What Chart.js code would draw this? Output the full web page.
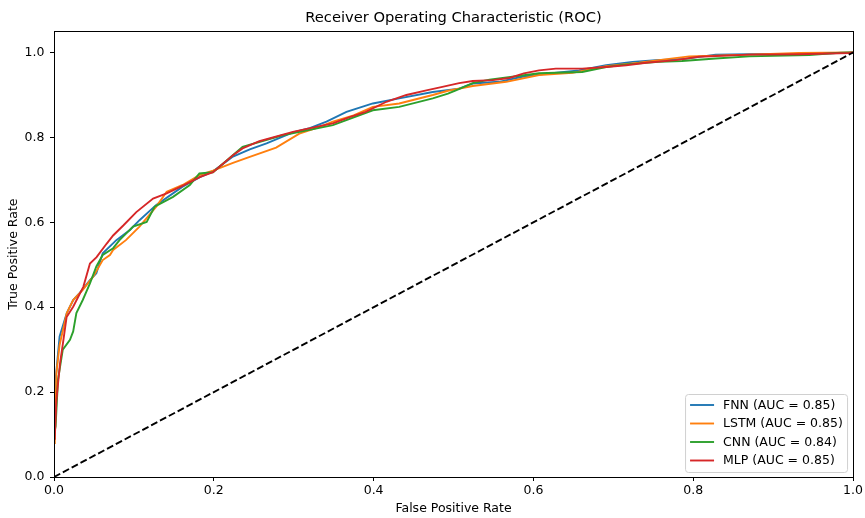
<!DOCTYPE html>
<html>
<head>
<meta charset="utf-8">
<title>ROC</title>
<script src="https://cdn.jsdelivr.net/npm/chart.js@4.4.1/dist/chart.umd.min.js"></script>
<style>
  html, body { margin: 0; padding: 0; background: #fff; }
  #wrap { width: 865px; height: 518px; }
</style>
</head>
<body>
<div id="wrap"><canvas id="rocChart" width="865" height="518"></canvas></div>
<script>
// ===== Data =====
const modelNames = ['FNN', 'LSTM', 'CNN', 'MLP'];
const aucValues = [0.85, 0.85, 0.84, 0.85];
const lineColors = ['#1f77b4', '#ff7f0e', '#2ca02c', '#d62728'];
const tickValues = [0, 0.2, 0.4, 0.6, 0.8, 1.0];
const chartTitle = 'Receiver Operating Characteristic (ROC)';

const fnnFpr = [0, 0.002, 0.007, 0.016, 0.024, 0.032, 0.045, 0.053, 0.061, 0.078, 0.095, 0.107, 0.128, 0.161, 0.182, 0.199, 0.224, 0.245, 0.266, 0.299, 0.320, 0.341, 0.366, 0.399, 0.432, 0.474, 0.507, 0.524, 0.557, 0.586, 0.620, 0.657, 0.691, 0.724, 0.753, 0.790, 0.828, 0.870, 0.950, 1.0];
const fnnTpr = [0.14, 0.229, 0.331, 0.386, 0.417, 0.433, 0.464, 0.480, 0.527, 0.558, 0.582, 0.605, 0.641, 0.684, 0.706, 0.720, 0.755, 0.772, 0.786, 0.812, 0.822, 0.837, 0.860, 0.880, 0.892, 0.907, 0.915, 0.927, 0.931, 0.943, 0.951, 0.958, 0.970, 0.978, 0.982, 0.985, 0.995, 0.996, 0.997, 1.0];

const lstmFpr = [0, 0.001, 0.003, 0.007, 0.016, 0.024, 0.036, 0.049, 0.061, 0.070, 0.074, 0.090, 0.107, 0.128, 0.141, 0.161, 0.182, 0.199, 0.224, 0.245, 0.278, 0.307, 0.330, 0.349, 0.375, 0.399, 0.432, 0.474, 0.493, 0.524, 0.566, 0.607, 0.649, 0.691, 0.732, 0.757, 0.795, 0.870, 0.932, 1.0];
const lstmTpr = [0.08, 0.084, 0.245, 0.311, 0.386, 0.417, 0.441, 0.472, 0.511, 0.523, 0.535, 0.558, 0.590, 0.637, 0.672, 0.688, 0.711, 0.722, 0.740, 0.754, 0.776, 0.809, 0.823, 0.837, 0.852, 0.872, 0.880, 0.900, 0.910, 0.921, 0.931, 0.947, 0.952, 0.968, 0.976, 0.982, 0.991, 0.995, 0.999, 1.0];

const cnnFpr = [0, 0.002, 0.005, 0.011, 0.020, 0.024, 0.028, 0.036, 0.045, 0.053, 0.061, 0.074, 0.082, 0.099, 0.116, 0.126, 0.149, 0.170, 0.182, 0.199, 0.236, 0.286, 0.349, 0.399, 0.432, 0.474, 0.493, 0.503, 0.524, 0.545, 0.607, 0.661, 0.691, 0.716, 0.757, 0.786, 0.828, 0.870, 0.945, 0.978, 1.0];
const cnnTpr = [0.10, 0.119, 0.229, 0.300, 0.323, 0.343, 0.386, 0.417, 0.456, 0.496, 0.523, 0.539, 0.558, 0.590, 0.601, 0.637, 0.660, 0.688, 0.715, 0.718, 0.778, 0.805, 0.829, 0.864, 0.872, 0.892, 0.903, 0.911, 0.928, 0.936, 0.951, 0.954, 0.966, 0.972, 0.978, 0.980, 0.986, 0.991, 0.994, 0.999, 1.0];

const mlpFpr = [0, 0.001, 0.003, 0.0075, 0.0117, 0.0158, 0.024, 0.0367, 0.045, 0.0533, 0.066, 0.074, 0.087, 0.103, 0.124, 0.141, 0.162, 0.183, 0.199, 0.224, 0.236, 0.257, 0.299, 0.328, 0.349, 0.370, 0.390, 0.416, 0.441, 0.466, 0.486, 0.507, 0.524, 0.549, 0.570, 0.588, 0.607, 0.628, 0.661, 0.691, 0.716, 0.741, 0.778, 0.807, 0.870, 0.932, 0.995, 1.0];
const mlpTpr = [0.09, 0.092, 0.181, 0.267, 0.322, 0.377, 0.401, 0.448, 0.503, 0.518, 0.550, 0.569, 0.593, 0.624, 0.656, 0.668, 0.687, 0.707, 0.718, 0.758, 0.774, 0.791, 0.813, 0.825, 0.833, 0.848, 0.860, 0.884, 0.900, 0.911, 0.919, 0.928, 0.933, 0.935, 0.940, 0.951, 0.958, 0.962, 0.962, 0.966, 0.970, 0.976, 0.982, 0.990, 0.995, 0.996, 0.999, 1.0];

const chanceFpr = [0, 1];
const chanceTpr = [0, 1];

const fprList = [fnnFpr, lstmFpr, cnnFpr, mlpFpr];
const tprList = [fnnTpr, lstmTpr, cnnTpr, mlpTpr];

const toPoints = (xs, ys) => xs.map((x, i) => ({ x: x, y: ys[i] }));

const FONT = 'DejaVu Sans';
const TXT = 12.5;
Chart.defaults.color = '#000';
Chart.defaults.font.family = FONT;

// ===== Datasets =====
const datasets = modelNames.map((name, i) => ({
  label: name + ' (AUC = ' + aucValues[i].toFixed(2) + ')',
  data: toPoints(fprList[i], tprList[i]),
  borderColor: lineColors[i],
  borderWidth: 1.9,
  pointRadius: 0,
  showLine: true,
  tension: 0,
  order: modelNames.length - i   // later model drawn on top, like matplotlib
}));
datasets.push({
  label: 'chance',
  data: toPoints(chanceFpr, chanceTpr),
  borderColor: '#000',
  borderWidth: 1.9,
  borderDash: [7, 3],
  pointRadius: 0,
  showLine: true,
  order: 0
});

// ---------- Frame around plot area + title centred on the axes ----------
const framePlugin = {
  id: 'frame',
  afterDatasetsDraw(chart) {
    const { ctx, chartArea: a } = chart;
    ctx.save();
    ctx.strokeStyle = '#000';
    ctx.lineWidth = 1;
    ctx.strokeRect(Math.round(a.left) + 0.5, Math.round(a.top) + 0.5,
      Math.round(a.right - a.left), Math.round(a.bottom - a.top));
    ctx.font = '14.7px "' + FONT + '"';
    ctx.fillStyle = '#000';
    ctx.textAlign = 'center';
    ctx.textBaseline = 'middle';
    ctx.fillText(chartTitle, (a.left + a.right) / 2, 18.5);
    ctx.restore();
  }
};

// ---------- Legend box (lower right, inside axes) ----------
const boxLegendPlugin = {
  id: 'boxLegend',
  afterDraw(chart) {
    const { ctx, chartArea: a } = chart;
    const sets = chart.data.datasets.filter(d => d.label !== 'chance');
    const w = 162, rowH = 18.5, h = 78;
    const x = a.right - 6 - w, y = a.bottom - 5 - h;
    ctx.save();
    ctx.beginPath();
    if (ctx.roundRect) ctx.roundRect(x + 0.5, y + 0.5, w, h, 3); else ctx.rect(x + 0.5, y + 0.5, w, h);
    ctx.fillStyle = 'rgba(255,255,255,0.8)';
    ctx.fill();
    ctx.strokeStyle = '#d0d0d0';
    ctx.lineWidth = 1;
    ctx.stroke();
    ctx.font = TXT + 'px "' + FONT + '"';
    ctx.textBaseline = 'middle';
    ctx.textAlign = 'left';
    sets.forEach((d, i) => {
      const cy = y + 11 + i * rowH;
      ctx.strokeStyle = d.borderColor;
      ctx.lineWidth = 1.9;
      ctx.beginPath();
      ctx.moveTo(x + 5, cy);
      ctx.lineTo(x + 29, cy);
      ctx.stroke();
      ctx.fillStyle = '#000';
      ctx.fillText(d.label, x + 38, cy + 0.5);
    });
    ctx.restore();
  }
};

const axisCommon = (titleText, titlePad) => ({
  type: 'linear',
  min: 0,
  border: { display: false },
  grid: { display: true, drawOnChartArea: false, drawTicks: true, tickLength: 4, tickColor: '#000', color: '#000' },
  ticks: {
    font: { size: TXT },
    color: '#000',
    callback: v => Number(v).toFixed(1)
  },
  afterBuildTicks: scale => { scale.ticks = tickValues.map(v => ({ value: v })); },
  title: { display: true, text: titleText, font: { size: TXT }, color: '#000', padding: titlePad }
});

const xAxis = axisCommon('False Positive Rate', { top: 0, bottom: 2 });
xAxis.max = 1.0;
xAxis.ticks.padding = 2;
xAxis.ticks.maxRotation = 0;
xAxis.afterFit = scale => { scale.height = 41; };

const yAxis = axisCommon('True Positive Rate', { top: 6.5, bottom: 0 });
yAxis.max = 1.05;
yAxis.ticks.padding = 5.5;
yAxis.afterFit = scale => { scale.width = 54; };

new Chart(document.getElementById('rocChart'), {
  type: 'scatter',
  data: { datasets: datasets },
  options: {
    responsive: false,
    animation: false,
    events: [],
    layout: { padding: { top: 31.3, right: 11, bottom: 0, left: 0 } },
    plugins: {
      legend: { display: false },
      tooltip: { enabled: false },
      title: { display: false }
    },
    scales: { x: xAxis, y: yAxis }
  },
  plugins: [framePlugin, boxLegendPlugin]
});
</script>
</body>
</html>
